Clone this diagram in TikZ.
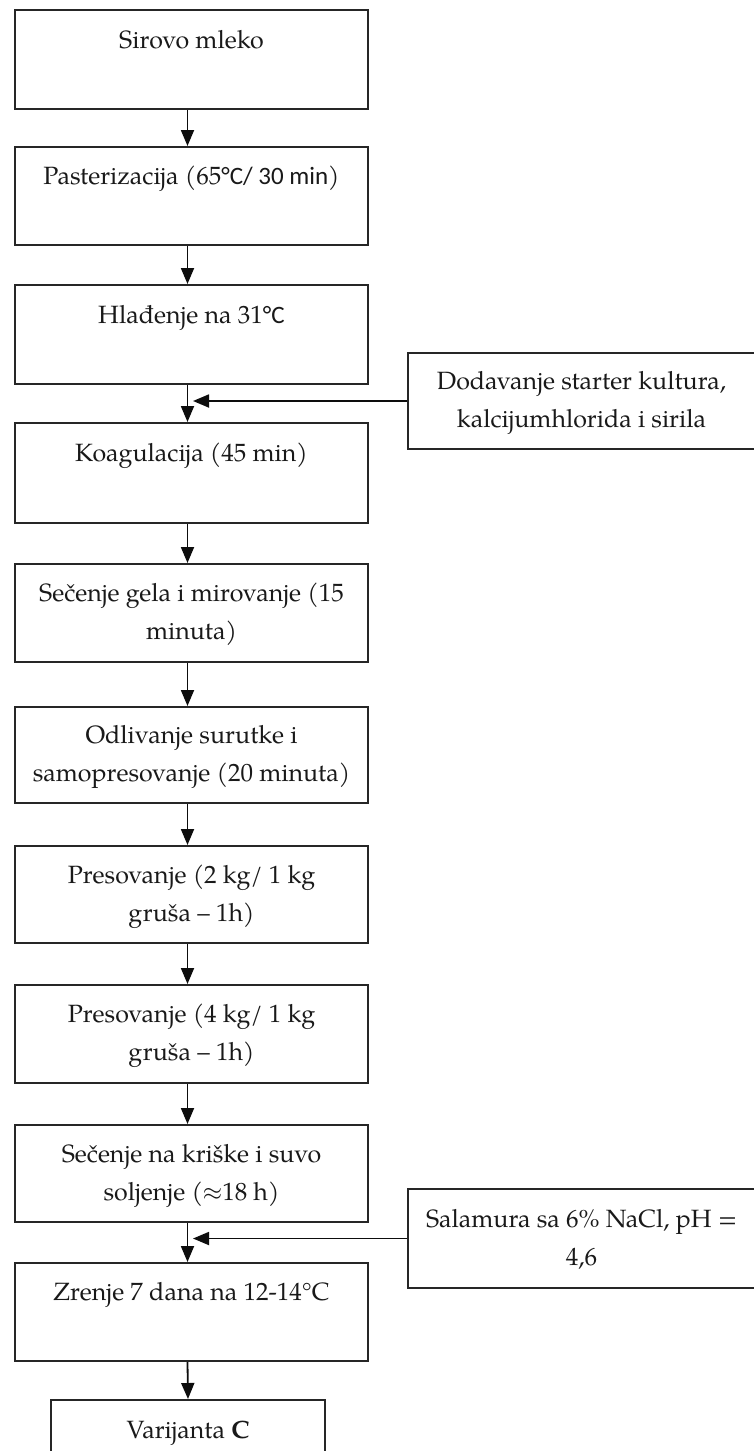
\documentclass[tikz,border=0pt]{standalone}
\usepackage{fontspec}
\setmainfont{TeX Gyre Pagella}
\newfontfamily\calib{Carlito}
\usetikzlibrary{arrows.meta}
\begin{document}
\begin{tikzpicture}[x=1pt,y=-1pt,
  box/.style={draw=black!85, line width=2pt, minimum width=353pt, align=center,
    font=\fontsize{25}{38}\selectfont, inner sep=0pt, text=black!90},
  side/.style={box, minimum width=347pt},
  arr/.style={draw=black!95, line width=1.8pt, -{Triangle[width=13pt,length=16pt]}}]
\useasboundingbox (0,0) rectangle (754,1451);
\clip (0,0) rectangle (754,1451);
\fill[white] (0,0) rectangle (754,1451);

\node[box, minimum height=99pt] (b1) at (191.5,59.5) {\strut Sirovo mleko\\\strut};
\node[box, minimum height=98pt] (b2) at (191.5,196) {\strut Pasterizacija (65{\calib°C/ 30 min})\\\strut};
\node[box, minimum height=99pt] (b3) at (191.5,334.5) {\strut Hlađenje na 31{\calib°C}\\\strut};
\node[box, minimum height=100pt] (b4) at (191.5,473) {\strut Koagulacija (45 min)\\\strut};
\node[box, minimum height=98pt] (b5) at (191.5,613) {\strut Sečenje gela i mirovanje (15\\\strut minuta)};
\node[box, minimum height=96pt] (b6) at (191.5,755) {\strut Odlivanje surutke i\\\strut samopresovanje (20 minuta)};
\node[box, minimum height=97pt] (b7) at (191.5,894.5) {\strut Presovanje (2 kg/ 1 kg\\\strut gruša -- 1h)};
\node[box, minimum height=98pt] (b8) at (191.5,1034) {\strut Presovanje (4 kg/ 1 kg\\\strut gruša -- 1h)};
\node[box, minimum height=97pt] (b9) at (191.5,1173.5) {\strut Sečenje na kriške i suvo\\\strut soljenje ($\approx$18 h)};
\node[box, minimum height=98pt] (b10) at (191.5,1312) {\strut Zrenje 7 dana na 12-14°C\\\strut};
\node[box, minimum height=99pt, minimum width=274pt] (b11) at (188,1449.5) {\strut Varijanta \textbf{C}\\\strut};

\node[side, minimum height=96pt] (sa) at (581.5,401) {\strut Dodavanje starter kultura,\\\strut kalcijumhlorida i sirila};
\node[side, minimum height=99pt] (sb) at (581.5,1238.5) {\strut Salamura sa 6\% NaCl, pH =\\\strut 4,6};

\coordinate (ta) at (193,401);
\coordinate (tb) at (193,1238.5);

\foreach \a/\b in {b1/b2,b2/b3,b3/b4,b4/b5,b5/b6,b6/b7,b7/b8,b8/b9,b9/b10}
  \draw[arr] ([xshift=-4pt]\a.south) -- ([xshift=-4pt]\b.north);
\draw[arr] ([xshift=-4pt]b10.south) -- (b11.north);
\draw[arr] (sa.west) -- (ta);
\draw[arr] (sb.west) -- (tb);
\end{tikzpicture}
\end{document}
